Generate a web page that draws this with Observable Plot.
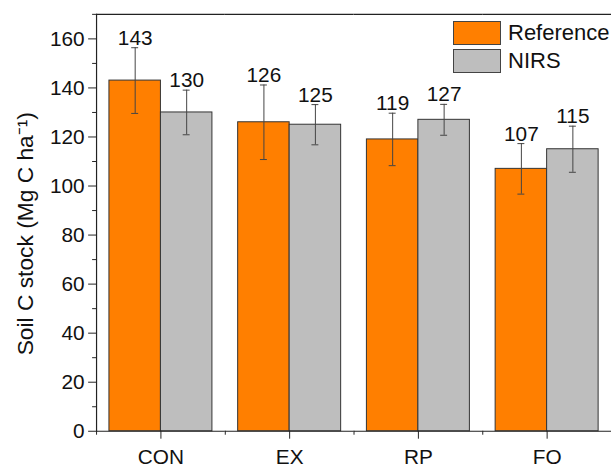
<!DOCTYPE html>
<html>
<head>
<meta charset="utf-8">
<script src="https://cdn.jsdelivr.net/npm/d3@7"></script>
<script src="https://cdn.jsdelivr.net/npm/@observablehq/plot@0.6"></script>
<style>
  html, body { margin: 0; padding: 0; background: #fff; }
  #wrap { position: relative; width: 611px; height: 469px; overflow: hidden; font-family: "Liberation Sans", Arial, sans-serif; }
  #legend { position: absolute; left: 453px; top: 19px; font-size: 22px; color: #111; }
  .item { display: flex; align-items: center; height: 28px; }
  .sw { width: 46px; height: 22px; border: 1px solid #444; margin-right: 7px; box-sizing: content-box; }
</style>
</head>
<body>
<div id="wrap"></div>
<script>
const categories = ["CON", "EX", "RP", "FO"];
const series = ["Reference", "NIRS"];
const referenceValues = [143, 126, 119, 107];
const nirsValues = [130, 125, 127, 115];
const referenceErrors = [13.4, 15.2, 10.7, 10.3];
const nirsErrors = [9.1, 8.2, 6.3, 9.4];
const colors = ["#ff7f00", "#bebebe"];
const yMajorTicks = [0, 20, 40, 60, 80, 100, 120, 140, 160];
const yMinorTicks = [10, 30, 50, 70, 90, 110, 130, 150, 170];
const yLabel = "Soil C stock (Mg C ha\u207B\u00B9)";

const rows = [];
categories.forEach((c, i) => {
  rows.push({cat: c, series: "Reference", value: referenceValues[i], err: referenceErrors[i]});
  rows.push({cat: c, series: "NIRS", value: nirsValues[i], err: nirsErrors[i]});
});

const font = "Liberation Sans, Arial, sans-serif";

const chart = Plot.plot({
  width: 617,
  height: 469,
  marginLeft: 97,
  marginRight: 0,
  marginTop: 14,
  marginBottom: 34,
  style: {fontFamily: font, color: "#111", background: "white", overflow: "visible"},
  fx: {domain: categories, padding: 0, label: null},
  x: {domain: series, paddingInner: 0, paddingOuter: 0.238, axis: null},
  y: {domain: [0, 170], label: null},
  color: {domain: series, range: colors},
  marks: [
    Plot.barY(rows, {fx: "cat", x: "series", y: "value", fill: "series", stroke: "#333", strokeWidth: 1}),
    Plot.ruleX(rows, {fx: "cat", x: "series", y1: d => d.value - d.err, y2: d => d.value + d.err, stroke: "#444", strokeWidth: 1}),
    Plot.tickY(rows, {fx: "cat", x: "series", y: d => d.value + d.err, stroke: "#444", strokeWidth: 1, insetLeft: 22.5, insetRight: 22.5}),
    Plot.tickY(rows, {fx: "cat", x: "series", y: d => d.value - d.err, stroke: "#444", strokeWidth: 1, insetLeft: 22.5, insetRight: 22.5}),
    Plot.text(rows, {fx: "cat", x: "series", y: d => d.value + d.err, text: d => String(d.value), lineAnchor: "bottom", dy: -3, fontSize: 21, fill: "#111"}),
    Plot.ruleY([0, 170], {stroke: "#222", strokeWidth: 1.2}),
    Plot.frame({anchor: "left", facetAnchor: "left", stroke: "#222", strokeWidth: 1.2}),
    Plot.axisY({ticks: yMajorTicks, tickSize: 8, tickPadding: 4, fontSize: 21, stroke: "#222", label: null}),
    Plot.axisY({ticks: yMinorTicks, tickSize: 4, tickFormat: () => "", label: null, stroke: "#222"}),
    Plot.text([yLabel], {text: d => d, frameAnchor: "left", textAnchor: "middle", rotate: -90, dx: -72, dy: 11, fontSize: 23, fill: "#111", facetAnchor: "left"}),
    Plot.axisFx({anchor: "bottom", tickSize: 8, tickPadding: 10, fontSize: 21, label: null, stroke: "#222"}),
    Plot.axisFx({anchor: "bottom", tickSize: 4, tickFormat: () => "", label: null, stroke: "#222", dx: -65})
  ]
});

const wrap = document.getElementById("wrap");
wrap.appendChild(chart);
const legend = document.createElement("div");
legend.id = "legend";
series.forEach((s, i) => {
  const item = document.createElement("div");
  item.className = "item";
  const sw = document.createElement("div");
  sw.className = "sw";
  sw.style.background = colors[i];
  const t = document.createElement("span");
  t.textContent = s;
  item.appendChild(sw);
  item.appendChild(t);
  legend.appendChild(item);
});
wrap.appendChild(legend);
</script>
</body>
</html>
